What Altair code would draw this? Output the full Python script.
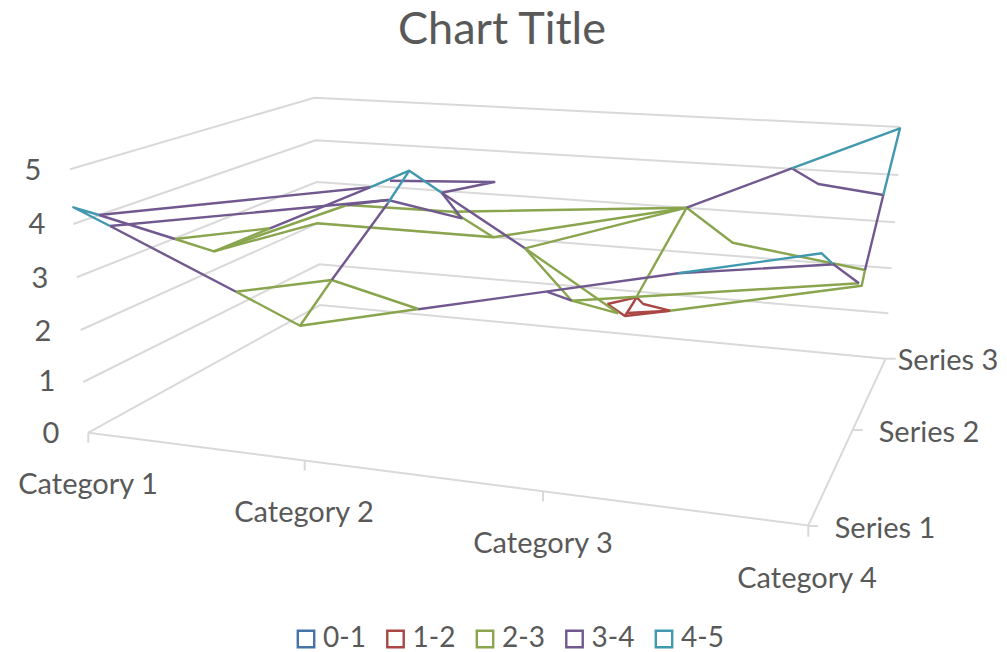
import altair as alt
import pandas as pd

FONT = "Lato"
GREY = "#595959"
GRID = "#D9D9D9"

title_text = "Chart Title"
bands = ["0-1", "1-2", "2-3", "3-4", "4-5"]
band_colors = ["#4572A7", "#AA4643", "#89A54E", "#71588F", "#4198AF"]

# Wireframe, in the picture's own projected plane
wire_1_2 = [
    [(607.3, 304), (636.7, 297.3), (643.3, 304), (670, 310.7), (625, 316), (607.3, 304)],
    [(636.7, 297.3), (625, 316)],
    [(670, 310.7), (627, 313)],
]
wire_2_3 = [
    [(175, 239), (270, 228.3)],
    [(175, 239), (214, 251.3), (347, 205), (453, 211.7), (686.7, 207.7)],
    [(214, 251.3), (270, 228.3)],
    [(214, 251.3), (316.7, 223.3), (493.3, 237.3), (686.7, 207.7)],
    [(453, 211.7), (493.3, 237.3)],
    [(236, 291.7), (331.7, 280), (418.3, 309), (300, 325.7), (236, 291.7)],
    [(331.7, 280), (300, 325.7)],
    [(525, 248.3), (686.7, 207.7)],
    [(525, 248.3), (571.7, 300.7), (618.3, 313.3)],
    [(525, 248.3), (618.3, 313.3)],
    [(571.7, 300.7), (859, 283.3)],
    [(637, 296), (686.7, 207.7)],
    [(670, 310.7), (861.7, 285.7), (865, 270), (732.7, 242.7), (686.7, 207.7)],
]
wire_3_4 = [
    [(99, 215), (370, 187.3)],
    [(99, 215), (175, 239)],
    [(110, 226), (388, 200), (461.7, 218.3), (441.7, 192.7), (494.3, 182), (390, 180.7)],
    [(110, 226), (236, 291.7)],
    [(270, 228.3), (370, 187.3)],
    [(347, 205), (388, 200)],
    [(388, 203), (331.7, 280)],
    [(441.7, 192.7), (525, 248.3)],
    [(418.3, 309.3), (678.3, 273.3), (835, 264.3)],
    [(546.7, 291.7), (571.7, 300.7)],
    [(833, 264), (859, 283.3)],
    [(686.7, 207.7), (791.7, 168.3), (818.3, 184), (883.3, 195), (865, 270)],
]
wire_4_5 = [
    [(110, 226), (73.3, 207.3), (99, 215)],
    [(370, 187.3), (409.3, 170.7), (441.7, 192.7)],
    [(409.3, 170.7), (388, 203)],
    [(678.3, 273.3), (821.7, 253.3), (833, 264)],
    [(883.3, 195), (900, 128.3), (791.7, 168.3)],
]

walls = [
    [(70, 169.3), (314.3, 97.7), (900, 127)],
    [(73.3, 224), (315.7, 140.3), (898.3, 175)],
    [(76.7, 277.3), (316.7, 182), (895, 222.3)],
    [(80.7, 330), (317.7, 223.3), (891.7, 268.3)],
    [(83.3, 382), (319.3, 264.3), (888.3, 313.3)],
    [(88.3, 432.7), (320, 305), (885.7, 358.7)],
    [(88.3, 432.7), (808.3, 525.5), (885.7, 358.7)],
    [(88.3, 432.7), (88.3, 442.7)],
    [(304.7, 460.7), (304.7, 470.7)],
    [(543, 491.5), (543, 501.5)],
    [(808.3, 525.5), (808.3, 536.7)],
    [(808.3, 526), (818, 526)],
    [(853.3, 430), (862.7, 430)],
    [(885.7, 358.7), (895.7, 358.7)],
]

value_labels = ["0", "1", "2", "3", "4", "5"]
value_label_x = [51, 47, 43, 40, 37, 33]
value_label_y = [434, 382, 332, 279, 225, 171]
category_labels = ["Category 1", "Category 2", "Category 3", "Category 4"]
category_label_x = [88, 304, 543, 807]
category_label_y = [485, 513, 544, 579]
series_labels = ["Series 1", "Series 2", "Series 3"]
series_label_x = [885, 929, 948]
series_label_y = [529, 433, 361]


def rows(groups, band, prefix):
    out = []
    for g, line in enumerate(groups):
        for o, (x, y) in enumerate(line):
            out.append(dict(x=x, y=y, band=band, line=f"{prefix}{g}", o=o))
    return out


wire = pd.DataFrame(
    rows(wire_1_2, "1-2", "r") + rows(wire_2_3, "2-3", "g")
    + rows(wire_3_4, "3-4", "p") + rows(wire_4_5, "4-5", "t")
)
wall = pd.DataFrame(rows(walls, "wall", "w"))
labels = pd.DataFrame({
    "t": value_labels + category_labels + series_labels,
    "x": value_label_x + category_label_x + series_label_x,
    "y": value_label_y + category_label_y + series_label_y,
})
title_df = pd.DataFrame({"t": [title_text], "x": [502], "y": [30]})

X = alt.X("x:Q", scale=alt.Scale(domain=[8, 999], nice=False, zero=False), axis=None)
Y = alt.Y("y:Q", scale=alt.Scale(domain=[652, 8], nice=False, zero=False), axis=None)

wall_layer = alt.Chart(wall).mark_line(color=GRID, strokeWidth=2).encode(
    x=X, y=Y, detail="line:N", order="o:Q"
)
wire_layer = alt.Chart(wire).mark_line(strokeWidth=2.4, strokeJoin="round").encode(
    x=X, y=Y, detail="line:N", order="o:Q",
    color=alt.Color(
        "band:N",
        scale=alt.Scale(domain=bands, range=band_colors),
        legend=alt.Legend(
            title=None, orient="none", legendX=284, legendY=617, direction="horizontal",
            columns=5, symbolType="square", symbolSize=270, symbolStrokeWidth=2.4,
            symbolFillColor="white", labelFont=FONT, labelFontSize=28, labelColor=GREY,
            columnPadding=15.5, labelOffset=3,
        ),
    ),
)
text_layer = alt.Chart(labels).mark_text(font=FONT, fontSize=29, color=GREY).encode(
    x=X, y=Y, text="t:N"
)
title_layer = alt.Chart(title_df).mark_text(font=FONT, fontSize=45, color=GREY).encode(
    x=X, y=Y, text="t:N"
)

chart = (wall_layer + wire_layer + text_layer + title_layer).properties(
    width=991, height=644, padding=0, autosize=alt.AutoSizeParams(type="none")
).configure_view(stroke=None)

chart.save("out.html", embed_options={"renderer": "svg", "actions": False})
